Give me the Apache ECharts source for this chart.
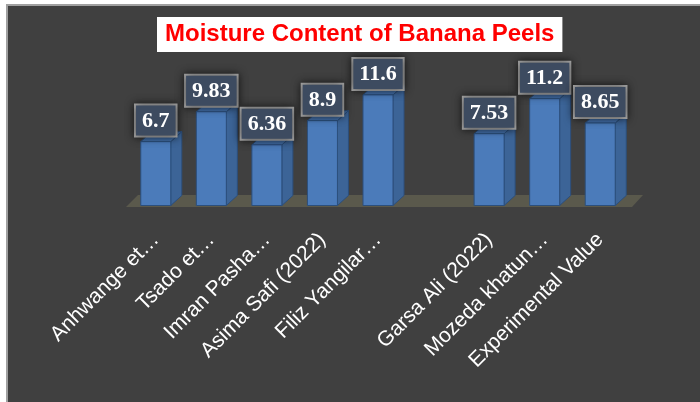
<!DOCTYPE html>
<html>
<head>
<meta charset="utf-8">
<script src="https://cdn.jsdelivr.net/npm/echarts@6/dist/echarts.min.js"></script>
<style>
html,body{margin:0;padding:0;background:#fff;}
#c{width:700px;height:402px;}
</style>
</head>
<body>
<div id="c"></div>
<script>
var categories = ["Anhwange et\u2026", "Tsado et\u2026", "Imran Pasha\u2026", "Asima Safi (2022)", "Filiz Yangilar\u2026", "", "Garsa Ali (2022)", "Mozeda khatun\u2026", "Experimental Value"];
var values = [6.7, 9.83, 6.36, 8.9, 11.6, null, 7.53, 11.2, 8.65];
var titleText = "Moisture Content of Banana Peels";

var barData = [];
for (var i = 0; i < values.length; i++) {
  if (values[i] !== null) barData.push([i, values[i]]);
}

var DX = 11, DY = 10;

function renderBar(params, api) {
  var idx = api.value(0), v = api.value(1);
  var base = api.coord([idx, 0]);
  var top = api.coord([idx, v]);
  var w = api.size([1, 0])[0] * 0.54;
  var xl = base[0] - w / 2, xr = base[0] + w / 2;
  var stroke = '#2c4f7c';
  return {
    type: 'group',
    children: [
      { type: 'polygon', shape: { points: [[xr, top[1]], [xr + DX, top[1] - DY], [xr + DX, base[1] - DY], [xr, base[1]]] },
        style: { fill: '#3c6497', stroke: stroke, lineWidth: 1 } },
      { type: 'polygon', shape: { points: [[xl, top[1]], [xl + DX, top[1] - DY], [xr + DX, top[1] - DY], [xr, top[1]]] },
        style: { fill: '#4471ab', stroke: stroke, lineWidth: 1 } },
      { type: 'rect', shape: { x: xl, y: top[1], width: w, height: base[1] - top[1] },
        style: { fill: '#4b7bba', stroke: stroke, lineWidth: 1 } },
      { type: 'text', x: base[0], y: top[1] - 6,
        style: { text: String(v), align: 'center', verticalAlign: 'bottom',
          fill: '#ffffff', font: 'bold 22px "Liberation Serif", "Times New Roman", serif',
          lineHeight: 23, backgroundColor: '#3d4b60', borderColor: '#a8a8a8', borderWidth: 2,
          padding: [4, 6, 3, 6], shadowBlur: 8, shadowColor: 'rgba(0,0,0,0.6)' } }
    ]
  };
}

function renderFloor(params, api) {
  var cs = params.coordSys;
  var b = cs.y + cs.height;
  var l = cs.x, r = cs.x + cs.width;
  return {
    type: 'polygon',
    shape: { points: [[l - 2, b + 1.5], [r + 4, b + 1.5], [r + 15, b - 10.5], [l + 10, b - 10.5]] },
    style: { fill: '#5a594c' }
  };
}

var chart = echarts.init(document.getElementById('c'), null, { renderer: 'canvas' });
chart.setOption({
  backgroundColor: '#ffffff',
  animation: false,
  graphic: [{
    type: 'rect', z: -10, silent: true,
    shape: { x: 7, y: 5, width: 700, height: 400 },
    style: { fill: '#404040', stroke: '#a0a0a0', lineWidth: 2 }
  }],
  title: {
    text: titleText, left: 157, top: 17,
    backgroundColor: '#ffffff', padding: [5, 8, 5, 8],
    textStyle: { color: '#ff0000', fontSize: 24, fontWeight: 'bold', fontFamily: '"Liberation Sans", Arial, sans-serif', lineHeight: 25 }
  },
  grid: { left: 128, right: 72, top: 72, bottom: 196.5, containLabel: false },
  xAxis: {
    type: 'category', data: categories,
    axisLine: { show: false }, axisTick: { show: false },
    axisLabel: { interval: 0, rotate: 45, margin: 31, color: '#ffffff', fontSize: 21,
      fontFamily: '"Liberation Sans", Arial, sans-serif' }
  },
  yAxis: { type: 'value', min: 0, max: 14, show: false, splitLine: { show: false } },
  series: [
    { type: 'custom', renderItem: renderFloor, data: [[0, 0]], z: 1, silent: true },
    { type: 'custom', renderItem: renderBar, data: barData, z: 2 }
  ]
});
</script>
</body>
</html>
